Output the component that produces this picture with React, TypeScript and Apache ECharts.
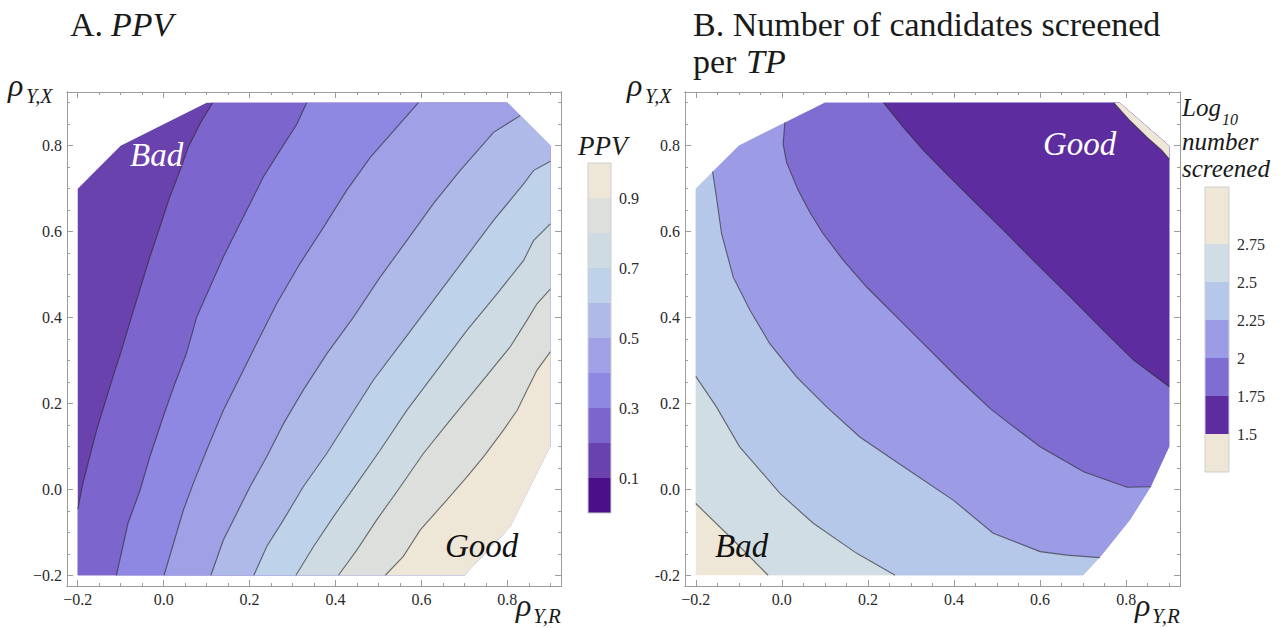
import React, { useEffect, useRef } from 'react';
import * as echarts from 'echarts';

type Pt = [number, number];

// ---------- axes ----------
const axisMin = -0.225;
const axisMax = 0.925;
const majorTicks = [-0.2, 0, 0.2, 0.4, 0.6, 0.8];
const minorTicks = [-0.15, -0.1, -0.05, 0.05, 0.1, 0.15, 0.25, 0.3, 0.35, 0.45, 0.5, 0.55, 0.65, 0.7, 0.75, 0.85, 0.9];

// ---------- panel A: PPV ----------
const ppvDomain: Pt[] = [[-0.2, -0.2], [-0.2, 0.7], [-0.1, 0.8], [0.1, 0.9], [0.8, 0.9], [0.9, 0.8], [0.9, 0.1], [0.807, -0.087], [0.7, -0.2]];
const ppvLevels = [0.2, 0.3, 0.4, 0.5, 0.6, 0.7, 0.8, 0.9];
const ppvLine20: Pt[] = [[-0.2, -0.046], [-0.188, 0.014], [-0.172, 0.076], [-0.156, 0.138], [-0.137, 0.2], [-0.118, 0.262], [-0.098, 0.324], [-0.075, 0.401], [-0.056, 0.463], [-0.032, 0.541], [-0.009, 0.61], [0.014, 0.68], [0.038, 0.742], [0.057, 0.796], [0.084, 0.85], [0.114, 0.9]];
const ppvLine30: Pt[] = [[-0.11, -0.2], [-0.083, -0.079], [-0.055, -0.002], [-0.032, 0.076], [-0.001, 0.169], [0.026, 0.246], [0.053, 0.316], [0.077, 0.401], [0.108, 0.471], [0.139, 0.541], [0.17, 0.603], [0.201, 0.665], [0.232, 0.727], [0.271, 0.789], [0.31, 0.85], [0.333, 0.9]];
const ppvLine40: Pt[] = [[0.001, -0.2], [0.03, -0.102], [0.046, -0.048], [0.069, 0.014], [0.1, 0.091], [0.139, 0.184], [0.178, 0.262], [0.216, 0.339], [0.263, 0.432], [0.317, 0.525], [0.372, 0.61], [0.426, 0.696], [0.481, 0.773], [0.543, 0.843], [0.593, 0.9]];
const ppvLine50: Pt[] = [[0.11, -0.2], [0.139, -0.118], [0.17, -0.056], [0.201, 0.006], [0.24, 0.076], [0.279, 0.153], [0.325, 0.231], [0.38, 0.316], [0.442, 0.401], [0.504, 0.494], [0.566, 0.579], [0.628, 0.665], [0.69, 0.742], [0.768, 0.831], [0.83, 0.87]];
const ppvLine60: Pt[] = [[0.21, -0.2], [0.24, -0.133], [0.279, -0.071], [0.325, 0.006], [0.38, 0.084], [0.434, 0.169], [0.488, 0.254], [0.558, 0.347], [0.628, 0.44], [0.698, 0.533], [0.768, 0.626], [0.838, 0.711], [0.861, 0.742], [0.9, 0.764]];
const ppvLine70: Pt[] = [[0.308, -0.2], [0.349, -0.133], [0.395, -0.064], [0.45, 0.014], [0.504, 0.091], [0.566, 0.184], [0.636, 0.277], [0.706, 0.37], [0.776, 0.455], [0.838, 0.533], [0.861, 0.579], [0.9, 0.618]];
const ppvLine80: Pt[] = [[0.407, -0.2], [0.45, -0.141], [0.496, -0.071], [0.551, 0.006], [0.605, 0.084], [0.667, 0.161], [0.737, 0.246], [0.807, 0.332], [0.846, 0.394], [0.869, 0.432], [0.9, 0.466]];
const ppvLine90: Pt[] = [[0.516, -0.2], [0.558, -0.156], [0.597, -0.095], [0.659, -0.025], [0.706, 0.029], [0.745, 0.076], [0.791, 0.138], [0.823, 0.184], [0.846, 0.231], [0.869, 0.277], [0.9, 0.32]];
const ppvLines: Pt[][] = [ppvLine20, ppvLine30, ppvLine40, ppvLine50, ppvLine60, ppvLine70, ppvLine80, ppvLine90];
const ppvBandEdges = [0, 0.1, 0.2, 0.3, 0.4, 0.5, 0.6, 0.7, 0.8, 0.9, 1.0];
const ppvBandColors = ['#4B0F8A', '#6942AE', '#7C65CC', '#8E88E3', '#9FA0E5', '#AFBAE8', '#BED3EA', '#CEDBE3', '#DCDFDC', '#EEE6D6'];
const ppvBarTicks = [0.1, 0.3, 0.5, 0.7, 0.9];

// ---------- panel B: log10 number screened per TP ----------
const scrDomain: Pt[] = [[-0.2, -0.2], [-0.2, 0.7], [-0.1, 0.8], [0, 0.85], [0.1, 0.9], [0.785, 0.9], [0.9, 0.8], [0.9, 0.1], [0.857, 0.006], [0.809, -0.071], [0.74, -0.157], [0.7, -0.2]];
const scrLevels = [2.75, 2.5, 2.25, 2.0, 1.75, 1.5];
const scrLine275: Pt[] = [[-0.2, -0.033], [-0.113, -0.118], [-0.032, -0.2]];
const scrLine250: Pt[] = [[-0.2, 0.263], [-0.152, 0.192], [-0.098, 0.099], [-0.051, 0.045], [-0.005, -0.009], [0.073, -0.079], [0.174, -0.149], [0.263, -0.2]];
const scrLine225: Pt[] = [[-0.161, 0.74], [-0.152, 0.68], [-0.14, 0.595], [-0.113, 0.494], [-0.074, 0.417], [-0.028, 0.339], [0.034, 0.262], [0.104, 0.192], [0.181, 0.122], [0.282, 0.053], [0.398, -0.025], [0.491, -0.102], [0.6, -0.145], [0.662, -0.153], [0.739, -0.159]];
const scrLine200: Pt[] = [[0.007, 0.854], [0.003, 0.804], [0.011, 0.761], [0.038, 0.696], [0.065, 0.645], [0.096, 0.595], [0.143, 0.533], [0.197, 0.471], [0.267, 0.401], [0.344, 0.324], [0.414, 0.254], [0.484, 0.188], [0.538, 0.146], [0.6, 0.099], [0.701, 0.041], [0.802, 0.005], [0.858, 0.006]];
const scrLine175: Pt[] = [[0.236, 0.9], [0.282, 0.843], [0.329, 0.789], [0.383, 0.734], [0.445, 0.672], [0.515, 0.603], [0.592, 0.525], [0.67, 0.448], [0.747, 0.37], [0.817, 0.301], [0.9, 0.239]];
const scrLine150: Pt[] = [[0.771, 0.9], [0.809, 0.858], [0.848, 0.82], [0.883, 0.789], [0.9, 0.769]];
const scrLines: Pt[][] = [scrLine275, scrLine250, scrLine225, scrLine200, scrLine175, scrLine150];
const scrBandEdges = [1.25, 1.5, 1.75, 2, 2.25, 2.5, 2.75, 3.125];
const scrBandColors = ['#EEE6D6', '#5D2C9F', '#7F6DD2', '#9C9CE6', '#B6C8EA', '#D0DDE4', '#EEE6D6'];
const scrBarTicks = [1.5, 1.75, 2, 2.25, 2.5, 2.75];

// ---------- styling ----------
const FONT = 'Liberation Serif, Times New Roman, serif';
const FRAME = '#9c9c9c';
const CONTOUR_LINE = 'rgba(40,40,40,0.62)';
const TEXT = '#1a1a1a';
const LABEL_COLOR = '#2a2a2a';

// Sutherland–Hodgman clip of a polygon against a convex polygon (data space)
function clipPolygon(subject: Pt[], clip: Pt[]): Pt[] {
  let area = 0;
  for (let i = 0; i < clip.length; i++) {
    const a = clip[i], b = clip[(i + 1) % clip.length];
    area += a[0] * b[1] - b[0] * a[1];
  }
  const s = area > 0 ? 1 : -1;
  let out: Pt[] = subject;
  for (let i = 0; i < clip.length; i++) {
    const a = clip[i], b = clip[(i + 1) % clip.length];
    const inside = (p: Pt) => s * ((b[0] - a[0]) * (p[1] - a[1]) - (b[1] - a[1]) * (p[0] - a[0])) >= 0;
    const inter = (p: Pt, q: Pt): Pt => {
      const a1 = b[1] - a[1], b1 = a[0] - b[0], c1 = a1 * a[0] + b1 * a[1];
      const a2 = q[1] - p[1], b2 = p[0] - q[0], c2 = a2 * p[0] + b2 * p[1];
      const det = a1 * b2 - a2 * b1;
      if (Math.abs(det) < 1e-12) return q;
      return [(b2 * c1 - b1 * c2) / det, (a1 * c2 - a2 * c1) / det];
    };
    const input = out;
    out = [];
    if (!input.length) break;
    for (let j = 0; j < input.length; j++) {
      const cur = input[j], prev = input[(j + input.length - 1) % input.length];
      const ci = inside(cur), pi = inside(prev);
      if (ci) {
        if (!pi) out.push(inter(prev, cur));
        out.push(cur);
      } else if (pi) {
        out.push(inter(prev, cur));
      }
    }
  }
  return out;
}

function contourRenderer(domain: Pt[], lines: Pt[][], baseColor: string, fills: string[], side: number) {
  return (_params: any, api: any) => {
    const toPx = (p: Pt) => api.coord(p);
    const children: any[] = [
      { type: 'polygon', shape: { points: domain.map(toPx) }, style: { fill: baseColor } },
    ];
    lines.forEach((ln, i) => {
      const S = ln[0];
      const E = ln[ln.length - 1];
      const far = 5 * side;
      const poly: Pt[] = [...ln, [E[0], far], [5, far], [5, -far], [S[0], -far]];
      const clipped = clipPolygon(poly, domain);
      if (clipped.length >= 3) {
        children.push({ type: 'polygon', shape: { points: clipped.map(toPx) }, style: { fill: fills[i] } });
      }
    });
    lines.forEach((ln) => {
      children.push({
        type: 'polyline',
        shape: { points: ln.map(toPx) },
        style: { stroke: CONTOUR_LINE, lineWidth: 1.15, fill: null },
      });
    });
    return { type: 'group', children };
  };
}

function tickFormatter(minus: string) {
  return (v: number) => '{t|' + (v < -1e-9 ? minus : '') + Math.abs(v).toFixed(1) + '}';
}

const labelRich = { t: { fontFamily: FONT, fontSize: 16, color: LABEL_COLOR } };

function frameAxes(gridIndex: number, dim: 'x' | 'y', minus: string) {
  const posMain = dim === 'x' ? 'bottom' : 'left';
  const posOpp = dim === 'x' ? 'top' : 'right';
  const mk = (position: string, ticks: number[], len: number, label: boolean) => ({
    gridIndex,
    type: 'value',
    position,
    min: axisMin,
    max: axisMax,
    splitLine: { show: false },
    axisLine: { show: true, onZero: false, lineStyle: { color: FRAME, width: 1 } },
    axisTick: { show: true, inside: true, length: len, customValues: ticks, lineStyle: { color: FRAME, width: 1 } },
    axisLabel: label
      ? {
          show: true,
          customValues: ticks,
          formatter: tickFormatter(minus),
          margin: 5,
          fontFamily: FONT,
          fontSize: 16,
          color: LABEL_COLOR,
          rich: labelRich,
        }
      : { show: false },
  });
  return [mk(posMain, majorTicks, 6, true), mk(posOpp, majorTicks, 6, false), mk(posMain, minorTicks, 3, false), mk(posOpp, minorTicks, 3, false)];
}

function barAxisY(gridIndex: number, min: number, max: number, ticks: number[], fmt: (v: number) => string) {
  return {
    gridIndex,
    type: 'value',
    position: 'right',
    min,
    max,
    splitLine: { show: false },
    axisLine: { show: false },
    axisTick: { show: true, inside: false, length: 6, customValues: ticks, lineStyle: { color: '#9a9a9a' } },
    axisLabel: {
      show: true,
      customValues: ticks,
      formatter: (v: number) => '{t|' + fmt(v) + '}',
      margin: 8,
      fontFamily: FONT,
      fontSize: 16,
      color: LABEL_COLOR,
      rich: labelRich,
    },
  };
}

function barSeries(axisIndex: number, edges: number[], colors: string[]) {
  return [
    {
      type: 'custom',
      coordinateSystem: 'cartesian2d',
      xAxisIndex: axisIndex,
      yAxisIndex: axisIndex,
      silent: true,
      data: colors.map((_c, i) => [0, edges[i], edges[i + 1], i]),
      encode: { x: 0, y: [1, 2] },
      renderItem: (_p: any, api: any) => {
        const lo = api.value(1), hi = api.value(2), idx = api.value(3);
        const p0 = api.coord([0, hi]);
        const p1 = api.coord([1, lo]);
        return { type: 'rect', shape: { x: p0[0], y: p0[1], width: p1[0] - p0[0], height: p1[1] - p0[1] }, style: { fill: colors[idx] } };
      },
    },
    {
      type: 'custom',
      coordinateSystem: 'cartesian2d',
      xAxisIndex: axisIndex,
      yAxisIndex: axisIndex,
      silent: true,
      z: 3,
      data: [[0, edges[0]]],
      renderItem: (_p: any, api: any) => {
        const p0 = api.coord([0, edges[edges.length - 1]]);
        const p1 = api.coord([1, edges[0]]);
        return { type: 'rect', shape: { x: p0[0], y: p0[1], width: p1[0] - p0[0], height: p1[1] - p0[1] }, style: { fill: null, stroke: '#cfcfcf', lineWidth: 1 } };
      },
    },
  ];
}

function txt(text: string, x: number, y: number, fontSize: number, italic: boolean, fill = TEXT) {
  return {
    type: 'text',
    x,
    y,
    z: 100,
    silent: true,
    style: { text, fontFamily: FONT, fontSize, fontStyle: italic ? 'italic' : 'normal', fill, align: 'left', verticalAlign: 'middle' },
  };
}

function buildOption() {
  const ppvFills = ppvLevels.map((v) => ppvBandColors[ppvBandEdges.indexOf(v)]);
  const scrFills = scrLevels.map((v) => scrBandColors[scrBandEdges.indexOf(v) - 1]);
  return {
    animation: false,
    backgroundColor: '#ffffff',
    textStyle: { fontFamily: FONT, fontSize: 16, color: LABEL_COLOR },
    grid: [
      { left: 67, top: 92, width: 494, height: 494 },
      { left: 685, top: 92, width: 495, height: 494 },
      { left: 588, top: 163, width: 23, height: 350 },
      { left: 1205, top: 187, width: 24, height: 285 },
    ],
    xAxis: [
      ...frameAxes(0, 'x', '\u2212'),
      ...frameAxes(1, 'x', '\u2212'),
      { gridIndex: 2, type: 'value', min: 0, max: 1, show: false },
      { gridIndex: 3, type: 'value', min: 0, max: 1, show: false },
    ],
    yAxis: [
      ...frameAxes(0, 'y', '\u2212'),
      ...frameAxes(1, 'y', '-'),
      barAxisY(2, 0, 1, ppvBarTicks, (v: number) => v.toFixed(1)),
      barAxisY(3, 1.25, 3.125, scrBarTicks, (v: number) => String(v)),
    ],
    series: [
      {
        type: 'custom',
        coordinateSystem: 'cartesian2d',
        xAxisIndex: 0,
        yAxisIndex: 0,
        silent: true,
        data: [[0.35, 0.35]],
        renderItem: contourRenderer(ppvDomain, ppvLines, ppvBandColors[1], ppvFills, 1),
      },
      {
        type: 'custom',
        coordinateSystem: 'cartesian2d',
        xAxisIndex: 4,
        yAxisIndex: 4,
        silent: true,
        data: [[0.35, 0.35]],
        renderItem: contourRenderer(scrDomain, scrLines, scrBandColors[6], scrFills, -1),
      },
      ...barSeries(8, ppvBandEdges, ppvBandColors),
      ...barSeries(9, scrBandEdges, scrBandColors),
    ],
    graphic: [
      // titles
      txt('A.', 70, 24, 34, false),
      txt('PPV', 111, 24, 34, true),
      txt('B. Number of candidates screened', 693, 24, 34, false),
      txt('per', 693, 61, 34, false),
      txt('TP', 746, 61, 34, true),
      // axis labels panel A
      txt('\u03c1', 8, 85, 32, true),
      txt('Y,X', 26, 96, 20, true),
      txt('\u03c1', 516, 605, 32, true),
      txt('Y,R', 533, 616, 21, true),
      // axis labels panel B
      txt('\u03c1', 627, 85, 32, true),
      txt('Y,X', 645, 96, 20, true),
      txt('\u03c1', 1135, 605, 32, true),
      txt('Y,R', 1152, 616, 21, true),
      // legend titles
      txt('PPV', 578, 146, 27, true),
      txt('Log', 1182, 107, 25, true),
      txt('10', 1222, 119, 16, true),
      txt('number', 1182, 141, 25, true),
      txt('screened', 1182, 168, 25, true),
      // annotations
      txt('Bad', 130, 155, 33, true, '#ffffff'),
      txt('Good', 445, 546, 33, true, '#111111'),
      txt('Good', 1043, 144, 33, true, '#ffffff'),
      txt('Bad', 715, 546, 33, true, '#111111'),
    ],
  };
}

export default function App() {
  const ref = useRef<HTMLDivElement>(null);
  useEffect(() => {
    if (!ref.current) return;
    const chart = echarts.init(ref.current, null, { renderer: 'svg' });
    chart.setOption(buildOption() as any);
    return () => {
      chart.dispose();
    };
  }, []);
  return (
    <div
      ref={ref}
      style={{ position: 'absolute', left: 0, top: 0, width: 1287, height: 628, background: '#ffffff' }}
    />
  );
}
